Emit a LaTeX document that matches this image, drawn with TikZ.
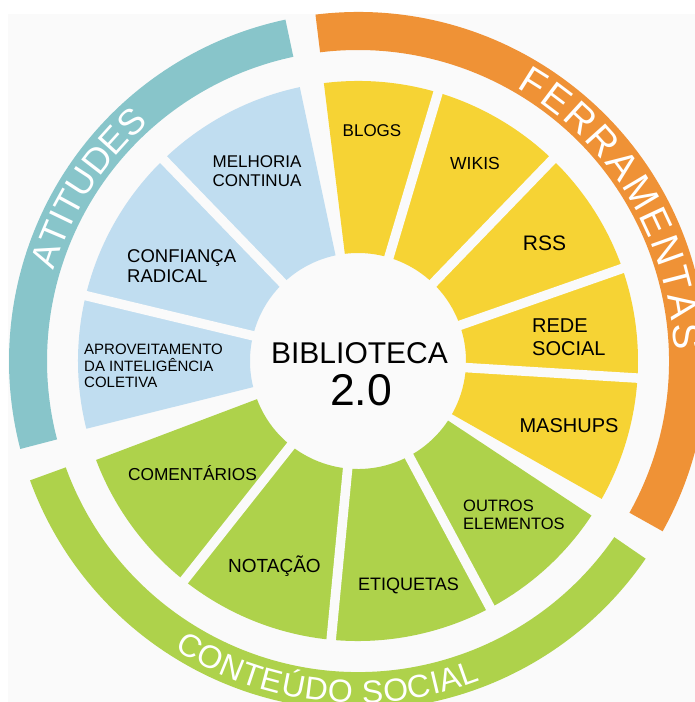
\documentclass[tikz,border=0pt]{standalone}
\usepackage{fontspec}
\setmainfont{Liberation Sans}
\usetikzlibrary{decorations.text}

\definecolor{bgc}{RGB}{250,250,250}
\definecolor{ringteal}{RGB}{136,197,202}
\definecolor{ringorange}{RGB}{239,146,54}
\definecolor{leafgreen}{RGB}{174,210,75}
\definecolor{leafyellow}{RGB}{246,211,52}
\definecolor{leafblue}{RGB}{192,221,240}

% annular sector: colour, start angle, end angle, inner radius, outer radius
\newcommand\ringpiece[5]{%
  \fill[#1] (#2:#4) arc[start angle=#2, end angle=#3, radius=#4]
    -- (#3:#5) arc[start angle=#3, end angle=#2, radius=#5] -- cycle;}

\newcommand\bandfont{\fontsize{36}{36}\selectfont}
\newcommand\bandfontlarge{\fontsize{39}{39}\selectfont}
\newcommand\bandfontsmall{\fontsize{32}{32}\selectfont}

\begin{document}
\begin{tikzpicture}[x=1pt,y=1pt,
  gap/.style={draw=bgc, line width=9.5pt},
  leaf/.style={inner sep=0pt, text=black},
  bandtext/.style={decorate, decoration={text along path, text={#1},
      text align=fit to path, text color=white}}]
\useasboundingbox (-358,-341) rectangle (337,361);
\fill[white] (-358,-341) rectangle (337,361);
\fill[bgc] (-350,-341) rectangle (337,347);

% outer bands
\ringpiece{ringteal}{102}{194.6}{311}{349}
\ringpiece{ringorange}{-29.2}{97}{311}{349}
\ringpiece{leafgreen}{200}{325.5}{311}{349}

% inner wedge groups
\ringpiece{leafblue}{102}{194}{108}{280}
\ringpiece{leafyellow}{-29.5}{97}{108}{280}
\ringpiece{leafgreen}{200.7}{326.5}{108}{280}

% separators between wedges of one group
\foreach \a in {134,166.5,73.4,46,19.3,-3.5,231.6,264.5,298.2}
  \draw[gap] (\a:100) -- (\a:290);

% band titles
\path[bandtext={|\bandfont|ATITUDES}]
  (163.5:317) arc[start angle=163.5, end angle=131.5, radius=317];
\path[bandtext={|\bandfontlarge|FERRAMENTAS}]
  (60:316) arc[start angle=60, end angle=2, radius=316];
\path[bandtext={|\bandfontsmall|CONTEÚDO SOCIAL}]
  (237.5:342) arc[start angle=237.5, end angle=291, radius=342];

% centre
\node[leaf, anchor=base, font=\fontsize{30}{30}\selectfont] (title) at (1.5,-2) {BIBLIOTECA};
\node[leaf, anchor=base, font=\fontsize{44.5}{44.5}\selectfont] (version) at (3,-44) {2.0};

% attitudes
\node[leaf, align=center, font=\fontsize{17}{19}\selectfont] (melhoria) at (-101,190) {MELHORIA\\CONTINUA};
\node[leaf, align=left, anchor=west, font=\fontsize{18.5}{20}\selectfont] (confianca) at (-231,94.5) {CONFIANÇA\\RADICAL};
\node[leaf, align=left, anchor=west, font=\fontsize{15}{16.5}\selectfont] (aproveitamento) at (-274,-5) {APROVEITAMENTO\\DA INTELIGÊNCIA\\COLETIVA};

% tools
\node[leaf, anchor=base, font=\fontsize{17}{17}\selectfont] (blogs) at (14,224) {BLOGS};
\node[leaf, anchor=base, font=\fontsize{17.5}{17.5}\selectfont] (wikis) at (117,191) {WIKIS};
\node[leaf, anchor=base, font=\fontsize{21}{21}\selectfont] (rss) at (186.5,111) {RSS};
\node[leaf, align=left, anchor=west, font=\fontsize{20}{23}\selectfont] (rede) at (174,24) {REDE\\SOCIAL};
\node[leaf, anchor=base, font=\fontsize{20}{20}\selectfont] (mashups) at (211,-71) {MASHUPS};

% social content
\node[leaf, align=left, anchor=west, font=\fontsize{16.5}{18}\selectfont] (outros) at (105,-154) {OUTROS\\ELEMENTOS};
\node[leaf, anchor=base, font=\fontsize{18}{18}\selectfont] (etiquetas) at (50.5,-229) {ETIQUETAS};
\node[leaf, anchor=base, font=\fontsize{19}{19}\selectfont] (notacao) at (-83.5,-211) {NOTAÇÃO};
\node[leaf, anchor=base, font=\fontsize{17.3}{17.3}\selectfont] (comentarios) at (-165.5,-119) {COMENTÁRIOS};
\end{tikzpicture}
\end{document}
